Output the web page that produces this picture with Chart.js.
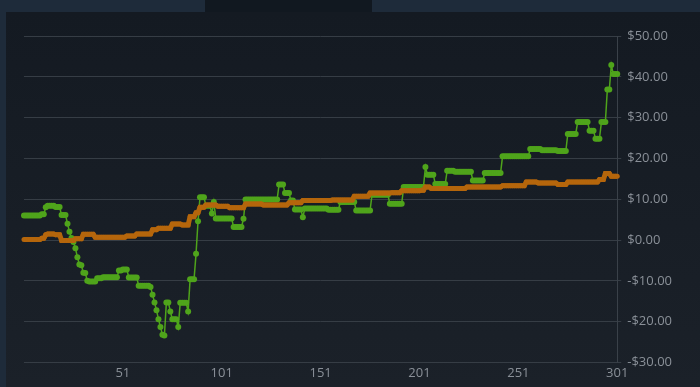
<!DOCTYPE html>
<html lang="en">
<head>
  <meta charset="UTF-8" />
  <title>Balance chart</title>
  <script src="https://cdn.jsdelivr.net/npm/chart.js"></script>
  <style>
    html, body {
      margin: 0;
      padding: 0;
      width: 700px;
      height: 387px;
      overflow: hidden;
      background: #111820;
      font-family: 'Open Sans', sans-serif;
    }
    .tab-left { position: absolute; left: 0; top: 0; width: 205px; height: 12px; background: #1e2b3a; }
    .tab-right { position: absolute; left: 372px; top: 0; width: 328px; height: 12px; background: #1e2b3a; }
    .side { position: absolute; left: 0; top: 12px; width: 6px; height: 375px; background: #1e2b3a; }
    .panel {
      position: absolute; left: 6px; top: 12px; width: 694px; height: 375px;
      background: linear-gradient(#141a22, #1b2129);
    }
  </style>
</head>
<body>
  <div class="tab-left"></div>
  <div class="tab-right"></div>
  <div class="side"></div>
  <div class="panel"><canvas id="chart" width="694" height="375"></canvas></div>

  <script>
    // x tick labels that are shown
    const xTickLabels = ['51', '101', '151', '201', '251', '301'];
    const yMin = -30, yMax = 50, yStep = 10;

    // green series (rows of 10)
    const greenValues = [
      6.0, 6.0, 6.0, 6.0, 6.0, 6.0, 6.0, 6.0, 6.0, 6.3,
      6.3, 8.0, 8.4, 8.4, 8.4, 8.4, 8.1, 8.1, 8.1, 6.1,
      6.1, 6.1, 4.0, 2.0, 0.5, -0.5, -2.0, -4.2, -6.0, -6.2,
      -8.0, -8.1, -10.0, -10.2, -10.2, -10.2, -10.2, -9.4, -9.4, -9.4,
      -9.1, -9.1, -9.1, -9.1, -9.1, -9.1, -9.1, -9.1, -7.5, -7.5,
      -7.2, -7.2, -7.2, -9.2, -9.2, -9.2, -9.2, -9.2, -11.2, -11.2,
      -11.2, -11.2, -11.2, -11.2, -11.5, -13.4, -15.3, -17.2, -19.4, -21.3,
      -23.2, -23.4, -15.3, -15.3, -17.5, -19.4, -19.4, -19.4, -21.3, -15.4,
      -15.4, -15.4, -15.4, -17.5, -9.6, -9.6, -9.6, -3.4, 4.6, 10.5,
      10.5, 10.5, 8.4, 8.4, 8.4, 6.5, 9.3, 5.3, 5.3, 5.3,
      5.3, 5.3, 5.3, 5.3, 5.3, 5.3, 3.2, 3.2, 3.2, 3.2,
      3.2, 5.2, 9.9, 9.9, 9.9, 9.9, 9.9, 9.9, 9.9, 9.9,
      9.9, 9.9, 9.9, 9.9, 9.9, 9.9, 9.9, 9.9, 9.9, 13.6,
      13.6, 13.6, 11.5, 11.5, 11.5, 9.7, 9.7, 7.5, 7.5, 7.5,
      7.5, 5.6, 7.7, 7.7, 7.7, 7.7, 7.7, 7.7, 7.7, 7.7,
      7.7, 7.7, 7.7, 7.7, 7.4, 7.4, 7.4, 7.4, 7.4, 7.4,
      9.3, 9.3, 9.3, 9.3, 9.3, 9.3, 9.3, 9.3, 7.2, 7.2,
      7.2, 7.2, 7.2, 7.2, 7.2, 7.2, 11.1, 11.1, 11.1, 11.1,
      11.1, 11.1, 11.1, 11.1, 11.1, 8.9, 8.9, 8.9, 8.9, 8.9,
      8.9, 8.9, 13.0, 13.0, 13.0, 13.0, 13.0, 13.0, 13.0, 13.0,
      13.0, 13.0, 13.0, 17.9, 16.0, 16.0, 16.0, 16.0, 13.7, 13.7,
      13.7, 13.7, 13.7, 13.7, 17.0, 17.0, 17.0, 17.0, 16.7, 16.7,
      16.7, 16.7, 16.7, 16.7, 16.7, 16.7, 16.7, 14.6, 14.6, 14.6,
      14.6, 14.6, 14.6, 16.4, 16.4, 16.4, 16.4, 16.4, 16.4, 16.4,
      16.4, 16.4, 20.5, 20.5, 20.5, 20.5, 20.5, 20.5, 20.5, 20.5,
      20.5, 20.5, 20.5, 20.5, 20.5, 20.5, 22.3, 22.3, 22.3, 22.3,
      22.3, 22.3, 22.0, 22.0, 22.0, 22.0, 22.0, 22.0, 22.0, 22.0,
      21.8, 21.8, 21.8, 21.8, 21.8, 26.0, 26.0, 26.0, 26.0, 26.0,
      28.9, 28.9, 28.9, 28.9, 28.9, 28.9, 26.8, 26.8, 26.8, 24.8,
      24.8, 24.8, 28.9, 28.9, 28.9, 36.9, 36.9, 42.9, 40.7, 40.7,
      40.7
    ];

    // orange series (rows of 10)
    const orangeValues = [
      0.1, 0.1, 0.1, 0.1, 0.1, 0.1, 0.1, 0.1, 0.1, 0.4,
      0.4, 1.3, 1.5, 1.5, 1.5, 1.5, 1.3, 1.3, 1.3, -0.1,
      -0.1, -0.1, -0.1, -0.1, -0.1, -0.1, 0.3, 0.3, 0.3, 0.3,
      1.4, 1.4, 1.4, 1.4, 1.4, 1.4, 0.7, 0.7, 0.7, 0.7,
      0.7, 0.7, 0.7, 0.7, 0.7, 0.7, 0.7, 0.7, 0.7, 0.7,
      0.7, 0.7, 1.0, 1.0, 1.0, 1.0, 1.0, 1.5, 1.5, 1.5,
      1.5, 1.5, 1.5, 1.5, 1.5, 2.5, 2.5, 2.5, 2.9, 2.9,
      2.9, 2.9, 2.9, 2.9, 2.9, 3.9, 3.9, 3.9, 3.9, 3.9,
      3.7, 3.7, 3.7, 3.7, 5.7, 5.7, 5.7, 6.7, 6.7, 8.0,
      8.0, 8.0, 8.6, 8.6, 8.6, 8.6, 8.6, 8.6, 8.3, 8.3,
      8.3, 8.3, 8.3, 8.3, 7.9, 7.9, 7.9, 7.9, 7.9, 7.9,
      7.9, 7.9, 8.8, 8.8, 8.8, 8.8, 8.8, 8.8, 8.8, 8.8,
      8.8, 8.6, 8.6, 8.6, 8.6, 8.6, 8.6, 8.6, 8.6, 8.6,
      8.6, 8.6, 8.6, 8.6, 9.1, 9.1, 9.1, 9.1, 9.1, 9.1,
      9.1, 9.7, 9.7, 9.7, 9.7, 9.7, 9.7, 9.7, 9.7, 9.7,
      9.7, 9.7, 9.7, 9.7, 9.7, 9.7, 9.8, 9.8, 9.8, 9.8,
      9.8, 9.8, 9.8, 9.8, 9.8, 9.8, 9.8, 10.7, 10.7, 10.7,
      10.7, 10.7, 10.7, 10.7, 10.7, 11.5, 11.5, 11.5, 11.5, 11.5,
      11.5, 11.5, 11.5, 11.5, 11.5, 11.5, 11.6, 11.6, 11.6, 11.6,
      11.6, 12.1, 12.1, 12.1, 12.1, 12.1, 12.1, 12.1, 12.1, 12.1,
      12.1, 12.2, 12.2, 13.0, 13.0, 13.0, 12.6, 12.6, 12.6, 12.6,
      12.6, 12.6, 12.6, 12.6, 12.6, 12.6, 12.6, 12.6, 12.6, 12.6,
      12.6, 12.6, 12.6, 12.6, 13.0, 13.0, 13.0, 13.0, 13.0, 13.0,
      13.0, 13.0, 13.0, 13.0, 13.0, 13.0, 13.0, 13.0, 13.0, 13.0,
      13.0, 13.0, 13.3, 13.3, 13.3, 13.3, 13.3, 13.3, 13.3, 13.3,
      13.3, 13.3, 13.3, 13.3, 14.2, 14.2, 14.2, 14.2, 14.2, 14.2,
      14.0, 14.0, 14.0, 14.0, 14.0, 14.0, 14.0, 14.0, 14.0, 14.0,
      13.6, 13.6, 13.6, 13.6, 13.6, 14.2, 14.2, 14.2, 14.2, 14.2,
      14.2, 14.2, 14.2, 14.2, 14.2, 14.2, 14.2, 14.2, 14.2, 14.2,
      14.2, 14.8, 14.8, 14.8, 16.3, 16.3, 16.3, 15.6, 15.6, 15.6,
      15.6
    ];

    // categories 1..301
    const categories = greenValues.map((v, i) => String(i + 1));

    function formatMoney(value) {
      const s = '$' + Math.abs(value).toFixed(2);
      return value < 0 ? '-' + s : s;
    }

    new Chart(document.getElementById('chart'), {
      type: 'line',
      data: {
        labels: categories,
        datasets: [
          {
            label: 'orange',
            data: orangeValues,
            borderColor: '#b5660c',
            backgroundColor: '#b5660c',
            borderWidth: 5,
            pointRadius: 2.5,
            pointBorderWidth: 0,
            tension: 0
          },
          {
            label: 'green',
            data: greenValues,
            borderColor: '#4fa41b',
            backgroundColor: '#4fa41b',
            borderWidth: 1.5,
            pointRadius: 3,
            pointBorderWidth: 0,
            tension: 0
          }
        ]
      },
      options: {
        responsive: false,
        animation: false,
        layout: { padding: { left: 18, top: 24, right: 22, bottom: 3 } },
        plugins: { legend: { display: false }, tooltip: { enabled: false } },
        scales: {
          x: {
            grid: { display: false, drawTicks: false },
            border: { display: false },
            ticks: {
              autoSkip: false,
              maxRotation: 0,
              padding: 3,
              color: '#8a9098',
              font: { family: 'Open Sans', size: 13 },
              callback: function (value, index) {
                const lab = this.getLabelForValue(value);
                return xTickLabels.includes(lab) ? lab : '';
              }
            }
          },
          y: {
            position: 'right',
            min: yMin,
            max: yMax,
            grid: { color: '#363d45', lineWidth: 1, tickLength: 4 },
            border: { display: true, color: '#3a4149', width: 1 },
            ticks: {
              stepSize: yStep,
              padding: 6,
              color: '#8a9098',
              font: { family: 'Open Sans', size: 13 },
              callback: (v) => formatMoney(v)
            }
          }
        }
      }
    });
  </script>
</body>
</html>
